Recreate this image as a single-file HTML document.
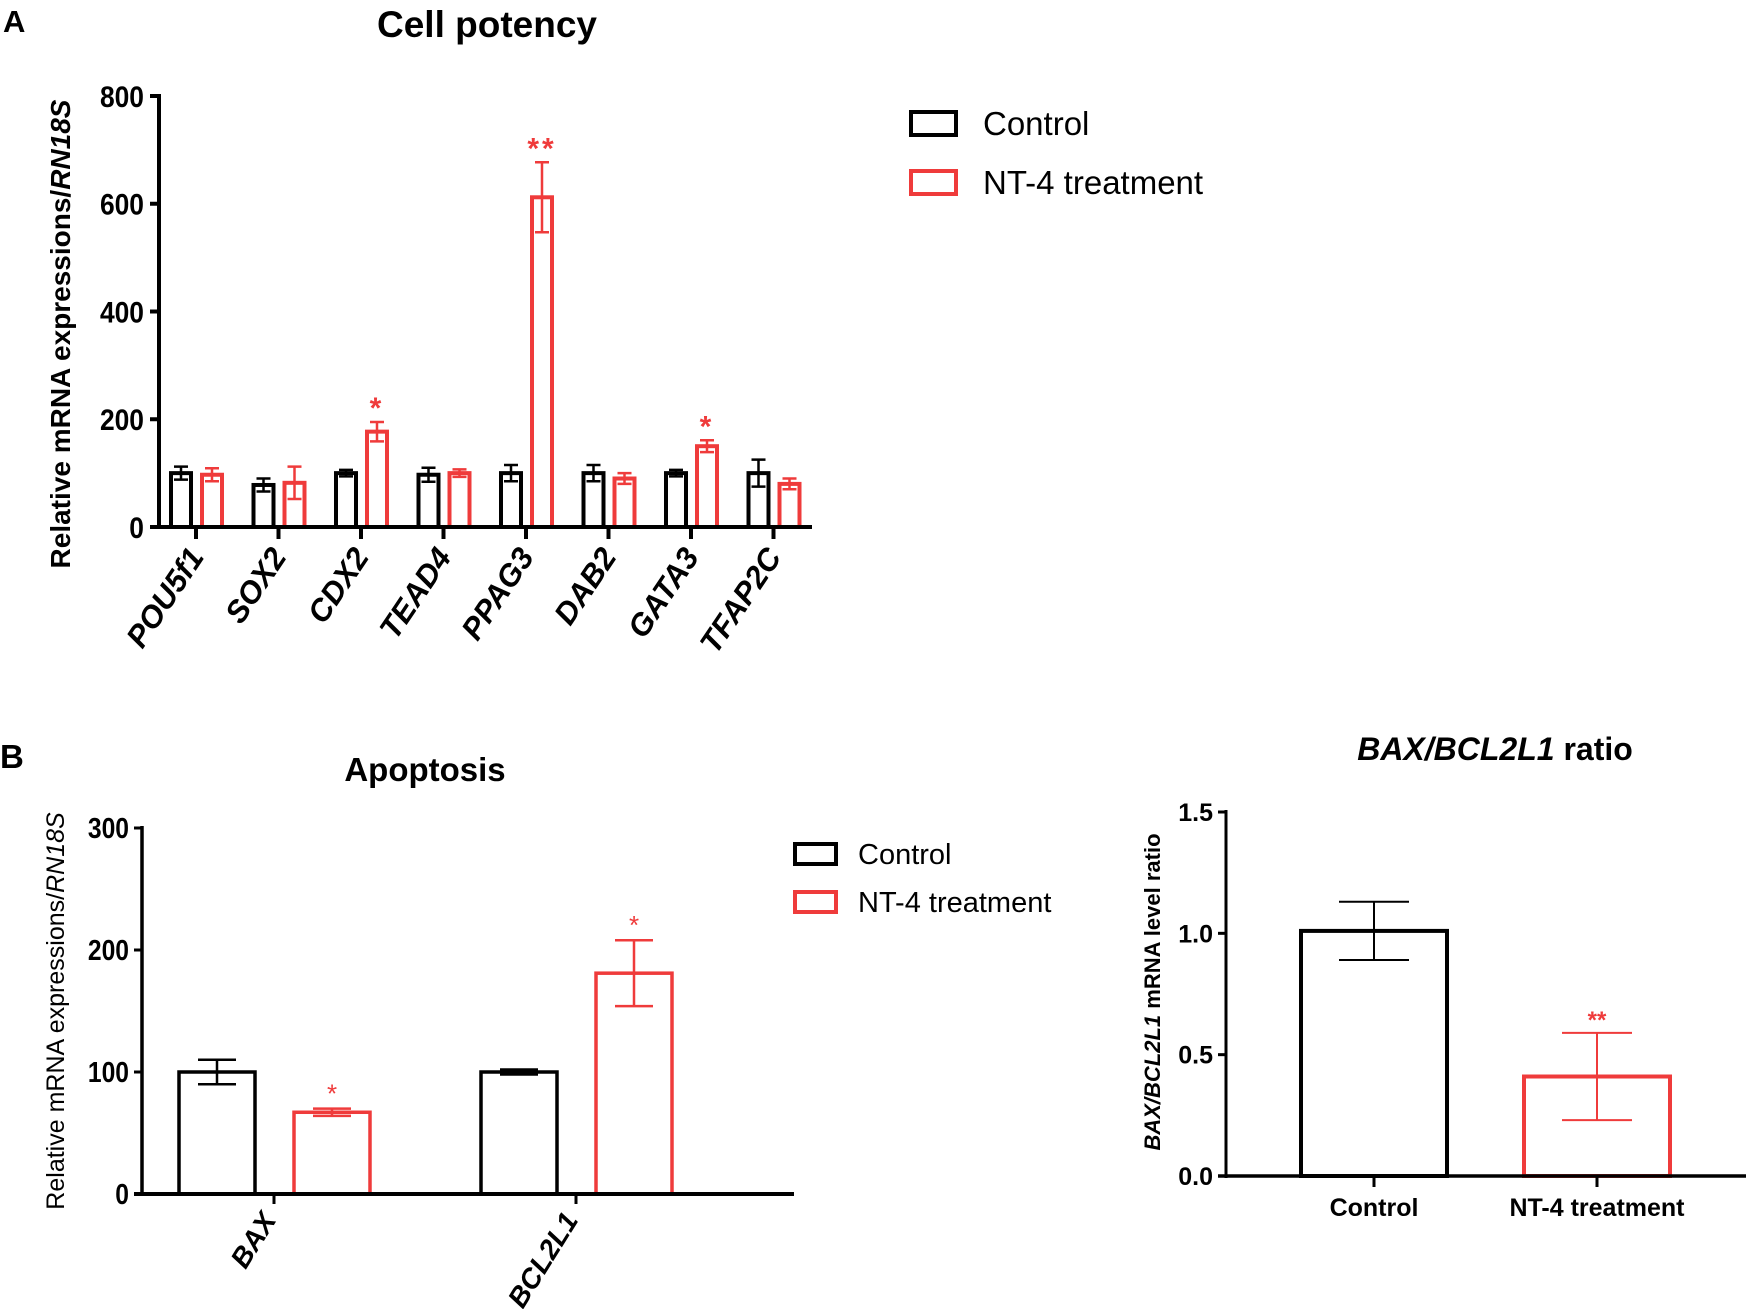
<!DOCTYPE html>
<html><head><meta charset="utf-8"><style>
html,body{margin:0;padding:0;background:#fff;overflow:hidden;}
svg{display:block;font-family:"Liberation Sans",sans-serif;}
</style></head><body>
<svg id="fig" width="1748" height="1309" viewBox="0 0 1748 1309">
<g id="gA"></g>
<g id="gB"></g>
<g id="gC"></g>
</svg>
<script>
// Panel A data
const genesA = ["POU5f1","SOX2","CDX2","TEAD4","PPAG3","DAB2","GATA3","TFAP2C"];
const ctrlA = [100,78,100,97,100,100,100,100];
const ctrlErrA = [12,12,6,13,15,15,6,25];
const ntA = [97,82,177,100,612,90,150,80];
const ntErrA = [12,30,18,7,65,10,11,10];
const sigA = ["","","*","","**","","*",""];
const ticksA = [0,200,400,600,800];
// Panel B data
const genesB = ["BAX","BCL2L1"];
const ctrlB = [100,100];
const ctrlErrB = [10,2];
const ntB = [67,181];
const ntErrB = [3,27];
const sigB = ["*","*"];
const ticksB = [0,100,200,300];
// Panel C data
const groupsC = ["Control","NT-4 treatment"];
const valsC = [1.01,0.41];
const errC = [0.12,0.18];
const sigC = ["","**"];
const ticksC = ["0.0","0.5","1.0","1.5"];

const NS="http://www.w3.org/2000/svg";
const RED="#ef3b3b";
function mk(parent,tag,attrs,text){const e=document.createElementNS(NS,tag);for(const k in attrs)e.setAttribute(k,attrs[k]);if(text!==undefined)e.textContent=text;parent.appendChild(e);return e;}

// ---------- Panel A ----------
(function(){
const g=document.getElementById('gA');
const x0=159,x1=812,yb=527,yt=96;
const y=v=>yb-(v/800)*(yb-yt);
const tx=i=>196+i*82.5;
let t=mk(g,'text',{x:3,y:32,'font-size':31,'font-weight':'bold'},'A');


t=mk(g,'text',{x:487,y:37,'font-size':37,'font-weight':'bold','text-anchor':'middle'},'Cell potency');


ticksA.forEach(v=>{
 const tl=mk(g,'text',{x:144,y:y(v)+11,'font-size':30,'font-weight':'bold','text-anchor':'end',transform:`translate(144,0) scale(0.88,1) translate(-144,0)`},v);
 
 
 mk(g,'line',{x1:x0-9,x2:x0,y1:y(v),y2:y(v),stroke:'#000','stroke-width':4});
});
t=mk(g,'text',{transform:'translate(70,334) rotate(-90)','font-size':28,'font-weight':'bold','text-anchor':'middle'});
t.innerHTML='Relative mRNA expressions/<tspan font-style="italic">RN18S</tspan>';


genesA.forEach((gn,i)=>{
 const c=tx(i);
 [[ctrlA[i],ctrlErrA[i],c-15,'#000','control'],[ntA[i],ntErrA[i],c+16,RED,'nt4']].forEach(([v,e,cx,col,nm])=>{
  const r=mk(g,'rect',{x:cx-10,y:y(v),width:20,height:yb-y(v),fill:'none',stroke:col,'stroke-width':4});
  
  
  mk(g,'path',{d:`M${cx} ${y(v+e)}V${y(v-e)}M${cx-7} ${y(v+e)}h14M${cx-7} ${y(v-e)}h14`,stroke:col,'stroke-width':2.5,fill:'none'});
 });
 if(sigA[i]){const s=mk(g,'text',{x:c+16,y:y(ntA[i]+ntErrA[i])-4,'font-size':30,'font-weight':'bold',fill:RED,'text-anchor':'middle','letter-spacing':3},sigA[i]);
  
  }
 mk(g,'line',{x1:c,x2:c,y1:yb,y2:yb+12,stroke:'#000','stroke-width':4});
 const l=mk(g,'text',{transform:`translate(${c+9},${yb+30}) rotate(-56)`,'font-size':31,'font-weight':'bold','font-style':'italic','text-anchor':'end'},gn);
 
 
});
mk(g,'line',{x1:x0,x2:x0,y1:yt-2,y2:yb+2,stroke:'#000','stroke-width':4});
mk(g,'line',{x1:x0,x2:x1,y1:yb,y2:yb,stroke:'#000','stroke-width':4});
[['Control','#000',123],['NT-4 treatment',RED,182]].forEach(([lab,col,cy])=>{
 const b=mk(g,'rect',{x:911,y:cy-11,width:45,height:23,fill:'none',stroke:col,'stroke-width':4});
 
 
 const lt=mk(g,'text',{x:983,y:cy+12,'font-size':33},lab);
 
 
});
})();

// ---------- Panel B ----------
(function(){
const g=document.getElementById('gB');
const x0=142,x1=794,yb=1194,yt=828;
const y=v=>yb-(v/300)*(yb-yt);
const tx=[274,576];
let t=mk(g,'text',{x:0,y:768,'font-size':33,'font-weight':'bold'},'B');


t=mk(g,'text',{x:425,y:781,'font-size':33,'font-weight':'bold','text-anchor':'middle'},'Apoptosis');


ticksB.forEach(v=>{
 const tl=mk(g,'text',{x:129,y:y(v)+10,'font-size':29,'font-weight':'bold','text-anchor':'end',transform:'translate(129,0) scale(0.85,1) translate(-129,0)'},v);
 
 
 mk(g,'line',{x1:x0-8,x2:x0,y1:y(v),y2:y(v),stroke:'#000','stroke-width':3});
});
t=mk(g,'text',{transform:'translate(64,1011) rotate(-90)','font-size':25,'text-anchor':'middle'});
t.innerHTML='Relative mRNA expressions/<tspan font-style="italic">RN18S</tspan>';


genesB.forEach((gn,i)=>{
 const c=tx[i];
 [[ctrlB[i],ctrlErrB[i],c-57,'#000','control'],[ntB[i],ntErrB[i],c+58,RED,'nt4']].forEach(([v,e,cx,col,nm])=>{
  const r=mk(g,'rect',{x:cx-38,y:y(v),width:76,height:yb-y(v),fill:'none',stroke:col,'stroke-width':3.5});
  
  
  mk(g,'path',{d:`M${cx} ${y(v+e)}V${y(v-e)}M${cx-19} ${y(v+e)}h38M${cx-19} ${y(v-e)}h38`,stroke:col,'stroke-width':2.5,fill:'none'});
 });
 if(sigB[i]){const s=mk(g,'text',{x:c+58,y:y(ntB[i]+ntErrB[i])-6,'font-size':26,fill:RED,'text-anchor':'middle'},sigB[i]);
  
  }
 mk(g,'line',{x1:c,x2:c,y1:yb,y2:yb+10,stroke:'#000','stroke-width':3});
 const l=mk(g,'text',{transform:`translate(${c+3},${yb+26}) rotate(-58)`,'font-size':28,'font-weight':'bold','font-style':'italic','text-anchor':'end'},gn);
 
 
});
mk(g,'line',{x1:x0,x2:x0,y1:yt-2,y2:yb+2,stroke:'#000','stroke-width':3.5});
mk(g,'line',{x1:x0-8,x2:x1,y1:yb,y2:yb,stroke:'#000','stroke-width':4});
[['Control','#000',854],['NT-4 treatment',RED,902]].forEach(([lab,col,cy])=>{
 const b=mk(g,'rect',{x:795,y:cy-10,width:41,height:20,fill:'none',stroke:col,'stroke-width':4});
 
 
 const lt=mk(g,'text',{x:858,y:cy+10,'font-size':29},lab);
 
 
});
})();

// ---------- Panel C ----------
(function(){
const g=document.getElementById('gC');
const x0=1226,x1=1746,yb=1176,yt=812;
const y=v=>yb-(v/1.5)*(yb-yt);
const tx=[1374,1597];
let t=mk(g,'text',{x:1495,y:760,'font-size':32,'font-weight':'bold','text-anchor':'middle'});
t.innerHTML='<tspan font-style="italic">BAX/BCL2L1</tspan> ratio';


ticksC.forEach(s=>{
 const v=parseFloat(s);
 const tl=mk(g,'text',{x:1213,y:y(v)+9,'font-size':25,'font-weight':'bold','text-anchor':'end'},s);
 
 
 mk(g,'line',{x1:x0-8,x2:x0,y1:y(v),y2:y(v),stroke:'#000','stroke-width':3});
});
t=mk(g,'text',{transform:'translate(1160,992) rotate(-90)','font-size':22,'font-weight':'bold','text-anchor':'middle'});
t.innerHTML='<tspan font-style="italic">BAX/BCL2L1</tspan> mRNA level ratio';


groupsC.forEach((gn,i)=>{
 const c=tx[i], col=i?RED:'#000';
 const r=mk(g,'rect',{x:c-73,y:y(valsC[i]),width:146,height:yb-y(valsC[i]),fill:'none',stroke:col,'stroke-width':4});
 
 
 const v=valsC[i],e=errC[i];
 mk(g,'path',{d:`M${c} ${y(v+e)}V${y(v-e)}M${c-35} ${y(v+e)}h70M${c-35} ${y(v-e)}h70`,stroke:col,'stroke-width':2,fill:'none'});
 if(sigC[i]){const s=mk(g,'text',{x:c,y:y(v+e)-5,'font-size':24,'font-weight':'bold',fill:RED,'text-anchor':'middle'},sigC[i]);
  
  }
 mk(g,'line',{x1:c,x2:c,y1:yb,y2:yb+11,stroke:'#000','stroke-width':3});
 const l=mk(g,'text',{x:c,y:1216,'font-size':25,'font-weight':'bold','text-anchor':'middle'},gn);
 
 
});
mk(g,'line',{x1:x0,x2:x0,y1:yt-2,y2:yb+2,stroke:'#000','stroke-width':3});
mk(g,'line',{x1:x0-8,x2:x1,y1:yb,y2:yb,stroke:'#000','stroke-width':3.5});
})();
</script>
</body></html>
